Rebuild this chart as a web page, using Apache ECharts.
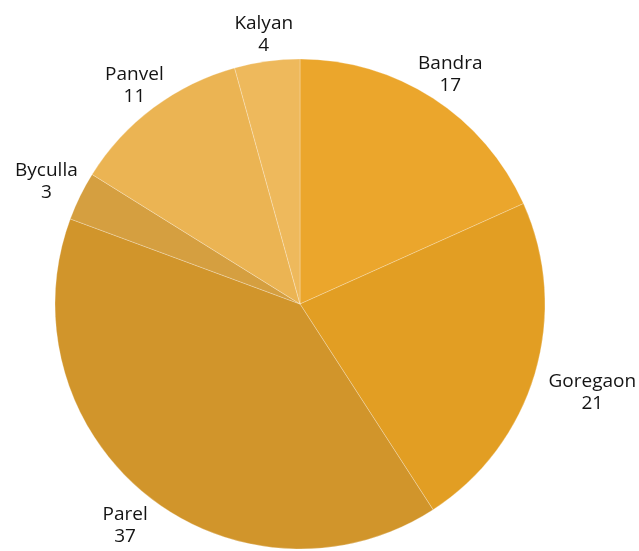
<!DOCTYPE html>
<html>
<head>
<meta charset="utf-8">
<script src="https://cdn.jsdelivr.net/npm/echarts@6/dist/echarts.min.js"></script>
<style>
html,body{margin:0;padding:0;background:#fff;}
#chart{width:639px;height:551px;}
</style>
</head>
<body>
<div id="chart"></div>
<script>
const categories = ['Bandra', 'Goregaon', 'Parel', 'Byculla', 'Panvel', 'Kalyan'];
const values = [17, 21, 37, 3, 11, 4];
const colors = ['#EBA62C', '#E29E23', '#D1952B', '#D59F40', '#EBB453', '#EEB95C'];

const CX = 300, CY = 304, R = 245;
const total = values.reduce((a, b) => a + b, 0);

const chart = echarts.init(document.getElementById('chart'), null, {renderer: 'canvas'});
chart.setOption({
  backgroundColor: '#fff',
  animation: false,
  series: [{
    type: 'pie',
    center: [CX, CY],
    radius: R,
    startAngle: 90,
    clockwise: true,
    avoidLabelOverlap: false,
    data: categories.map((c, i) => ({name: c, value: values[i], itemStyle: {color: colors[i]}})),
    itemStyle: {borderColor: 'rgba(255,255,255,0.5)', borderWidth: 0.5},
    label: {
      show: true,
      position: 'outside',
      formatter: '{b}\n{c}',
      fontFamily: '"Open Sans", sans-serif',
      fontSize: 19,
      lineHeight: 22,
      color: '#141414',
      align: 'center',
      overflow: 'none',
      edgeDistance: 0
    },
    labelLine: {show: false},
    emphasis: {disabled: true},
    labelLayout: function (p) {
      const i = p.dataIndex;
      let cum = 0;
      for (let j = 0; j < i; j++) cum += values[j];
      const mid = (cum + values[i] / 2) / total * 2 * Math.PI;
      const sx = Math.sin(mid), sy = -Math.cos(mid);
      const hw = p.labelRect.width / 2;
      const g = 22;
      const k = sy < 0 ? 0.55 : 0.9;
      return {
        x: CX + (R + g) * sx + hw * sx * Math.abs(sx) * k,
        y: CY + (R + g) * sy + (sy < 0 ? -5 : 13),
        align: 'center',
        verticalAlign: 'middle'
      };
    }
  }]
});
</script>
</body>
</html>
